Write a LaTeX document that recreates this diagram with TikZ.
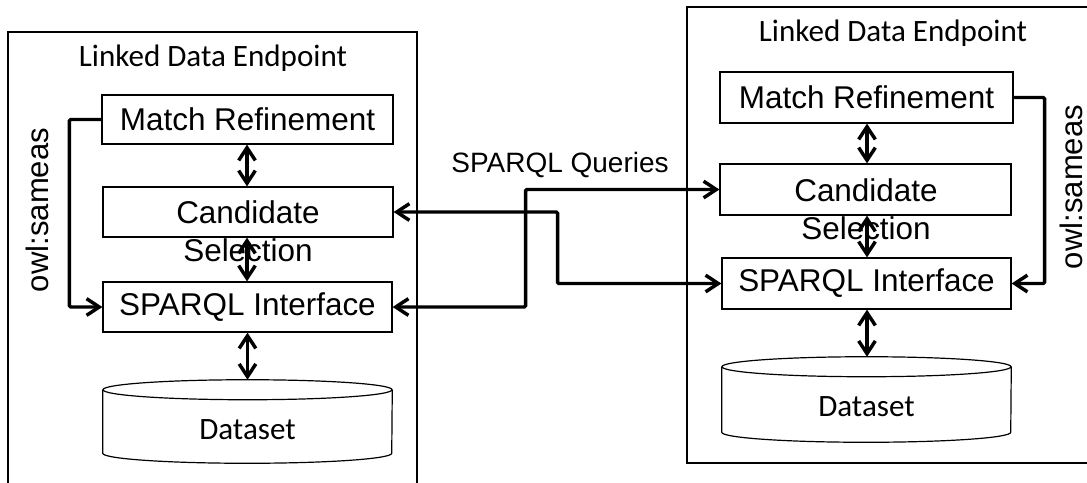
\documentclass[tikz,border=0pt]{standalone}
\usepackage{fontspec}
\setmainfont{Liberation Sans}
\newfontfamily\calibri{Carlito}
\usetikzlibrary{arrows.meta,calc}

\begin{document}
\begin{tikzpicture}[x=0.75pt,y=-0.75pt,
  frame/.style={draw,line width=0.9pt},
  block/.style={draw,line width=0.9pt,inner sep=0pt,font=\fontsize{23.6}{27}\selectfont},
  label/.style={inner sep=0pt,font=\fontsize{23.6}{29}\selectfont,align=center},
  title/.style={inner sep=0pt,font=\calibri\fontsize{23.3}{27}\selectfont},
  side/.style={rotate=90,inner sep=0pt,font=\fontsize{23.3}{27}\selectfont},
  store/.style={inner sep=0pt},
  barb/.tip={Straight Barb[length=9.5pt,width=12.5pt]},
  both/.style={line width=2.6pt,barb-barb},
  feedback/.style={line width=2.6pt,-barb,rounded corners=1pt},
]
\useasboundingbox (0,0) rectangle (1087,482);

% ---------- left endpoint ----------
\draw[frame] (8,490) -- (8,32) -- (417,32) -- (417,490);
\node[title] (ttlL) at (213,58) {Linked Data Endpoint};

\node[block,minimum width=218.25pt,minimum height=36.75pt] (mrL) at (247.5,119.5) {Match Refinement};
\node[block,minimum width=217.5pt,minimum height=37.5pt] (candL) at (248,212) {};
\node[label,anchor=north] (candLt) at (248,200) {Candidate\\Selection};
\node[block,minimum width=216.75pt,minimum height=37.5pt] (spL) at (247.5,307) {SPARQL Interface};
\node[store,minimum width=216.75pt,minimum height=62.25pt] (dsL) at (247.5,421.5) {};
\node[title] (dsLt) at (247.5,430) {Dataset};

\draw[line width=0.9pt] ($(dsL.north west)+(0,10)$) -- ($(dsL.south west)+(0,-10)$)
  arc[start angle=180,end angle=0,x radius=144.5,y radius=10] -- ($(dsL.north east)+(0,10)$);
\draw[line width=0.9pt] ($(dsL.north)+(0,10)$) ellipse[x radius=144.5,y radius=10];

\draw[both] (mrL.south -| 247,0) -- (247,0 |- candL.north);
\draw[both] (candL.south -| 247,0) -- (247,0 |- spL.north);
\draw[both] (spL.south) -- (dsL.north);

\node[side] (owlL) at (37,210) {owl:sameas};
\draw[feedback] (mrL.west) -- ++(-32,0) |- (spL.west);

% ---------- right endpoint ----------
\draw[frame] (1095,7) -- (687,7) -- (687,463) -- (1095,463);
\node[title] (ttlR) at (893,33) {Linked Data Endpoint};

\node[block,minimum width=219.75pt,minimum height=38.25pt] (mrR) at (866.5,97.5) {Match Refinement};
\node[block,minimum width=218.25pt,minimum height=38.25pt] (candR) at (865.5,189.5) {};
\node[label,anchor=north] (candRt) at (866,178) {Candidate\\Selection};
\node[block,minimum width=216.75pt,minimum height=38.25pt] (spR) at (866.5,283.5) {SPARQL Interface};
\node[store,minimum width=216.75pt,minimum height=63.75pt] (dsR) at (866.5,399.5) {};
\node[title] (dsRt) at (866.5,407) {Dataset};

\draw[line width=0.9pt] ($(dsR.north west)+(0,10)$) -- ($(dsR.south west)+(0,-10)$)
  arc[start angle=180,end angle=0,x radius=144.5,y radius=10] -- ($(dsR.north east)+(0,10)$);
\draw[line width=0.9pt] ($(dsR.north)+(0,10)$) ellipse[x radius=144.5,y radius=10];

\draw[both] (mrR.south -| 867,0) -- (867,0 |- candR.north);
\draw[both] (candR.south -| 867,0) -- (867,0 |- spR.north);
\draw[both] (spR.south -| 867,0) -- (867,0 |- dsR.north);

\node[side] (owlR) at (1071,187) {owl:sameas};
\draw[feedback] (mrR.east) -- ++(31,0) |- (spR.east);

% ---------- queries between the endpoints ----------
\node[font=\fontsize{21}{24}\selectfont] (q) at (560,165) {SPARQL Queries};
\draw[both,rounded corners=1pt] (candL.east) -- ++(164,0) |- (spR.west);
\draw[both,rounded corners=1pt] (spL.east) -- ++(133,0) |- (candR.west);
\end{tikzpicture}
\end{document}
